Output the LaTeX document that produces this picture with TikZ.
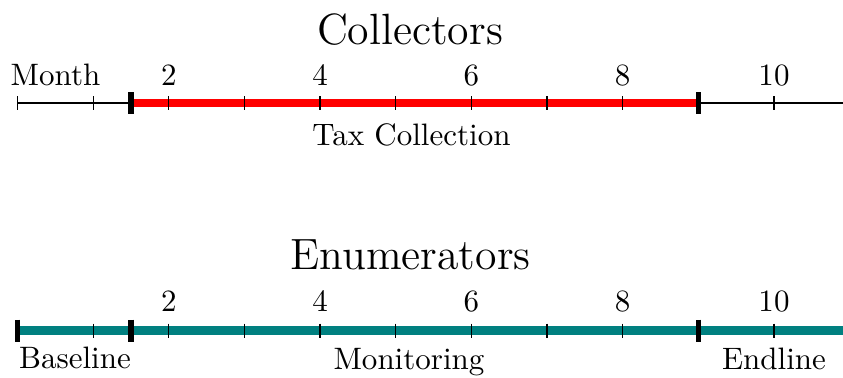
\documentclass[tikz,border=0pt]{standalone}
\begin{document}
\begin{tikzpicture}[x=0.329pt,y=-0.329pt,
  axisline/.style={line width=0.4pt,black},
  tickmark/.style={line width=0.4pt,black},
  phase/.style={line width=2.8pt},
  bound/.style={line width=1.7pt,black},
  lab/.style={font=\fontsize{10.2}{12}\selectfont,anchor=base,inner sep=0pt},
  ttl/.style={font=\fontsize{14.4}{17}\selectfont,anchor=base,inner sep=0pt}]
\useasboundingbox (0,0) rectangle (843,377);
\def\mx#1{{17.5+75.65*(#1)}}
% ---------- Collectors ----------
\node[ttl] (t1) at (410,44) {Collectors};
\node[lab] (month) at (55.5,85) {Month};
\coordinate (a0) at (17.5,103);
\coordinate (aend) at (860,103);
\coordinate (r1) at (\mx{1.5},103);
\coordinate (r2) at (\mx{9},103);
\draw[axisline] (a0) -- (aend);
\draw[phase,red] (r1) -- (r2);
\foreach \m in {0,...,10} \draw[tickmark] ({17.5+75.65*\m},96) -- ++(0,14);
\foreach \m in {2,4,6,8,10} \node[lab] (n1-\m) at ({17.5+75.65*\m},85) {\m};
\draw[bound] ([yshift=11pt*0.329]r1) -- ([yshift=-11pt*0.329]r1);
\draw[bound] ([yshift=11pt*0.329]r2) -- ([yshift=-11pt*0.329]r2);
\node[lab] (tax) at (411.5,145) {Tax Collection};
% ---------- Enumerators ----------
\node[ttl] (t2) at (410.5,269) {Enumerators};
\coordinate (b0) at (17.5,330.5);
\coordinate (bend) at (860,330.5);
\coordinate (b1) at (\mx{1.5},330.5);
\coordinate (b2) at (\mx{9},330.5);
\draw[phase,teal] (b0) -- (bend);
\foreach \m in {1,...,10} \draw[tickmark] ({17.5+75.65*\m},323.5) -- ++(0,14);
\foreach \m in {2,4,6,8,10} \node[lab] (n2-\m) at ({17.5+75.65*\m},311) {\m};
\foreach \c in {b0,b1,b2} \draw[bound] ([yshift=11pt*0.329]\c) -- ([yshift=-11pt*0.329]\c);
\node[lab] (base) at (75,368.5) {Baseline};
\node[lab] (mon) at (409,369) {Monitoring};
\node[lab] (end) at (774,369) {Endline};
\end{tikzpicture}
\end{document}
